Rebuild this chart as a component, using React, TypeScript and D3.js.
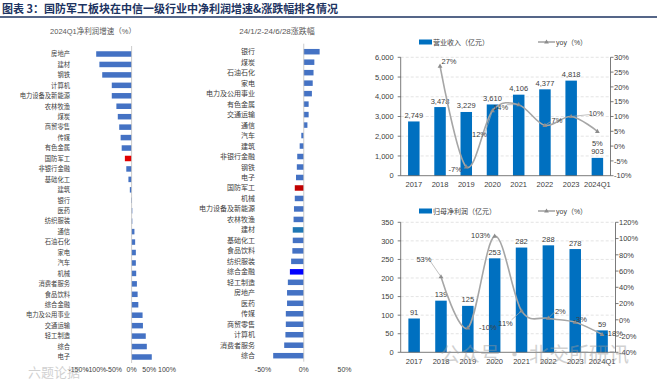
import React from 'react';
import * as d3 from 'd3';

const leftCats = ['房地产','建材','钢铁','计算机','电力设备及新能源','农林牧渔','煤炭','商贸零售','传媒','有色金属','国防军工','非银行金融','基础化工','建筑','银行','医药','纺织服装','通信','石油石化','家电','汽车','机械','消费者服务','食品饮料','综合金融','电力及公用事业','交通运输','轻工制造','综合','电子'];
const leftVals = [-100,-91,-83,-56,-56,-43,-39,-35,-31,-28,-19,-15,-9,-5,-1,2,2,8,10,12,12,13,15,17,19,31,32,40,43,57];
const leftTicks = [-150,-100,-50,0,50,100];

const midCats = ['银行','煤炭','石油石化','家电','电力及公用事业','有色金属','交通运输','通信','汽车','建筑','非银行金融','钢铁','电子','国防军工','机械','电力设备及新能源','农林牧渔','建材','基础化工','食品饮料','纺织服装','综合金融','轻工制造','房地产','医药','传媒','商贸零售','计算机','消费者服务','综合'];
const midVals = [19.5,13,12,11,10,6,6,4.5,-3,-5,-8,-8.5,-9.5,-11,-11,-12,-12.5,-13.5,-13.5,-14,-15.5,-17,-19.5,-20.5,-20.5,-22,-22,-22.5,-24,-37.5];
const midTicks = [-50,0,50];

const years = ['2017','2018','2019','2020','2021','2022','2023','2024Q1'];
const revenue = [2749,3478,3229,3610,4106,4377,4818,903];
const revYoy: (number|null)[] = [null,27,-7,12,14,7,10,5];
const revTicks = [0,1000,2000,3000,4000,5000,6000];
const revYoyTicks = [-10,-5,0,5,10,15,20,25,30];
const profit = [91,139,125,253,282,288,278,59];
const profitYoy: (number|null)[] = [null,53,-10,103,11,2,-3,-18];
const profitTicks = [0,50,100,150,200,250,300,350];
const profitYoyTicks = [-40,-20,0,20,40,60,80,100,120];

// label offsets (dx, dy) for yoy labels, and whether a leader line is drawn
const revYoyLabelPos: ([number, number, boolean] | null)[] = [null,[9,-5,false],[-11,2,false],[-13,24,true],[-18,3,true],[12,-5,true],[25,-3,true],[0,12,false]];
const profitYoyLabelPos: ([number, number, boolean] | null)[] = [null,[-17,-17,true],[20,-1,false],[-14,-1,false],[-16,12,true],[12,-7,true],[5,-3,false],[12,-1,false]];

const FONT = 'Liberation Sans, Arial, "Noto Sans CJK SC", sans-serif';
const TXT = '#404040';

function HBar({cats, vals, ticks, x0, x1, y0, y1, labelX, title, titleX, fs, highlight, domain}: any) {
  const x = d3.scaleLinear().domain(domain).range([x0, x1]);
  const y = d3.scalePoint<string>().domain(cats).range([y0, y1]);
  const bh = 5.5;
  return (
    <g>
      <text x={titleX} y={34} textAnchor="middle" fontSize={title.fs} fill="#595959" fontFamily={FONT}>{title.text}</text>
      {cats.map((c: string, i: number) => {
        const v = vals[i];
        const xa = x(Math.min(0, v)), xb = x(Math.max(0, v));
        return (
          <g key={c}>
            <rect x={xa} y={y(c)! - bh / 2} width={Math.max(0.6, xb - xa)} height={bh} fill={highlight[c] || '#4472C4'} />
            <text x={labelX} y={y(c)! + fs * 0.36} textAnchor="end" fontSize={fs} fill={TXT} fontFamily={FONT}>{c}</text>
          </g>
        );
      })}
      <line x1={x(0)} x2={x(0)} y1={y0 - 8} y2={y1 + 6} stroke="#bfbfbf" strokeWidth={0.8} />
      {ticks.map((t: number) => (
        <text key={t} x={x(t)} y={372} textAnchor="middle" fontSize={7} fill={TXT} fontFamily={FONT}>{t + '%'}</text>
      ))}
    </g>
  );
}

function Combo({vals, yoy, ticks, yoyTicks, xl, xr, yt, yb, legend, legendY, fmt, yoyPos}: any) {
  const x = d3.scaleBand<string>().domain(years).range([xl, xr]).padding(0);
  const cx = (d: string) => x(d)! + x.bandwidth() / 2;
  const y = d3.scaleLinear().domain([ticks[0], ticks[ticks.length - 1]]).range([yb, yt]);
  const y2 = d3.scaleLinear().domain([yoyTicks[0], yoyTicks[yoyTicks.length - 1]]).range([yb, yt]);
  const bw = 11.5;
  const pts: [number, number][] = [];
  yoy.forEach((v: number | null, i: number) => { if (v != null) pts.push([cx(years[i]), y2(v)]); });
  const line = d3.line().curve(d3.curveCardinal.tension(0))(pts) || '';
  const tri = (px: number, py: number) => `M${px},${py - 2.6}L${px + 2.4},${py + 1.6}L${px - 2.4},${py + 1.6}Z`;
  return (
    <g fontFamily={FONT}>
      {ticks.slice(1).map((t: number) => (
        <line key={'g' + t} x1={xl} x2={xr} y1={y(t)} y2={y(t)} stroke="#d9d9d9" strokeWidth={0.7} strokeDasharray="3,2" />
      ))}
      {vals.map((v: number, i: number) => (
        <rect key={i} x={cx(years[i]) - bw / 2} y={y(v)} width={bw} height={yb - y(v)} fill="#0070C0" />
      ))}
      <line x1={xl} x2={xl} y1={yt} y2={yb} stroke="#595959" strokeWidth={0.8} />
      <line x1={xr} x2={xr} y1={yt} y2={yb} stroke="#595959" strokeWidth={0.8} />
      <line x1={xl} x2={xr} y1={yb} y2={yb} stroke="#595959" strokeWidth={0.8} />
      {ticks.map((t: number) => (
        <g key={'l' + t}>
          <line x1={xl - 3} x2={xl} y1={y(t)} y2={y(t)} stroke="#595959" strokeWidth={0.8} />
          <text x={xl - 7} y={y(t) + 2.7} textAnchor="end" fontSize={7.5} fill={TXT}>{fmt(t)}</text>
        </g>
      ))}
      {yoyTicks.map((t: number) => (
        <g key={'r' + t}>
          <line x1={xr} x2={xr + 3} y1={y2(t)} y2={y2(t)} stroke="#595959" strokeWidth={0.8} />
          <text x={xr + 3.5} y={y2(t) + 2.7} textAnchor="start" fontSize={7.5} fill={TXT}>{t + '%'}</text>
        </g>
      ))}
      {years.map((d) => (
        <text key={d} x={cx(d)} y={yb + 11.5} textAnchor="middle" fontSize={7.5} fill={TXT}>{d}</text>
      ))}
      {vals.map((v: number, i: number) => (
        <text key={'v' + i} x={cx(years[i])} y={y(v) - (i === 7 && yoy[7] > 0 ? 3.5 : 3.5)} textAnchor="middle" fontSize={7.5} fill={TXT}>{fmt(v)}</text>
      ))}
      <path d={line} fill="none" stroke="#A6A6A6" strokeWidth={1.6} />
      {pts.map((p, i) => <path key={'m' + i} d={tri(p[0], p[1])} fill="#8c8c8c" />)}
      {yoy.map((v: number | null, i: number) => {
        if (v == null) return null;
        const [dx, dy, lead] = yoyPos[i];
        const px = cx(years[i]), py = y2(v);
        const lx = px + dx, ly = py + dy;
        return (
          <g key={'y' + i}>
            {lead && <line x1={lx + (dx < 0 ? 6 : -6)} y1={ly + (dy > 0 ? -3 : 1)} x2={px} y2={py} stroke="#A6A6A6" strokeWidth={0.7} />}
            <text x={lx} y={ly + 2.7} textAnchor="middle" fontSize={7.5} fill={TXT}>{v + '%'}</text>
          </g>
        );
      })}
      <rect x={419} y={legendY - 2.5} width={13} height={5} fill="#0070C0" />
      <text x={433} y={legendY + 2.5} fontSize={7} fill={TXT}>{legend}</text>
      <line x1={538} x2={555} y1={legendY} y2={legendY} stroke="#A6A6A6" strokeWidth={1.6} />
      <path d={tri(546.5, legendY)} fill="#8c8c8c" />
      <text x={556} y={legendY + 2.5} fontSize={7} fill={TXT}>yoy（%）</text>
    </g>
  );
}

export default function App() {
  const fmtC = d3.format(',');
  return (
    <svg width={657} height={381} style={{ position: 'absolute', left: 0, top: 0, background: '#fff' }} fontFamily={FONT}>
      <rect width={657} height={381} fill="#fff" />
      <text x={2} y={12.5} fontSize={11} fontWeight="bold" fill="#1c3361" fontFamily={'"Noto Sans CJK SC", sans-serif'}>图表 3：国防军工板块在中信一级行业中净利润增速&amp;涨跌幅排名情况</text>
      <line x1={0} x2={657} y1={17} y2={17} stroke="#1c3361" strokeWidth={1.5} />
      <HBar cats={leftCats} vals={leftVals} ticks={leftTicks} domain={[-150, 100]} x0={78.5} x1={167} y0={54} y1={357}
        labelX={70} fs={6.3} titleX={93} title={{ text: '2024Q1净利润增速（%）', fs: 7.5 }} highlight={{ '国防军工': '#E00000' }} />
      <HBar cats={midCats} vals={midVals} ticks={midTicks} domain={[-50, 50]} x0={263} x1={344.5} y0={51.7} y1={355.7}
        labelX={255} fs={7} titleX={277} title={{ text: '24/1/2-24/6/28涨跌幅', fs: 8 }} highlight={{ '国防军工': '#C00000', '建材': '#1F77B4', '综合金融': '#0000FF' }} />
      <Combo vals={revenue} yoy={revYoy} ticks={revTicks} yoyTicks={revYoyTicks} xl={400.7} xr={610.5} yt={57.3} yb={175.7}
        legend="营业收入（亿元）" legendY={42} fmt={fmtC} yoyPos={revYoyLabelPos} />
      <Combo vals={profit} yoy={profitYoy} ticks={profitTicks} yoyTicks={profitYoyTicks} xl={400.7} xr={615.5} yt={222.3} yb={352.3}
        legend="归母净利润（亿元）" legendY={211} fmt={(v: number) => String(v)} yoyPos={profitYoyLabelPos} />
      <text x={440} y={362} fontSize={20} fill="#9a9a9a" opacity={0.45} fontFamily={'"Noto Sans CJK SC", sans-serif'}>公众号 · 北交所研讯</text>
      <text x={28} y={377} fontSize={13} fill="#9a9a9a" opacity={0.45} fontFamily={'"Noto Sans CJK SC", sans-serif'}>六题论据</text>
    </svg>
  );
}
